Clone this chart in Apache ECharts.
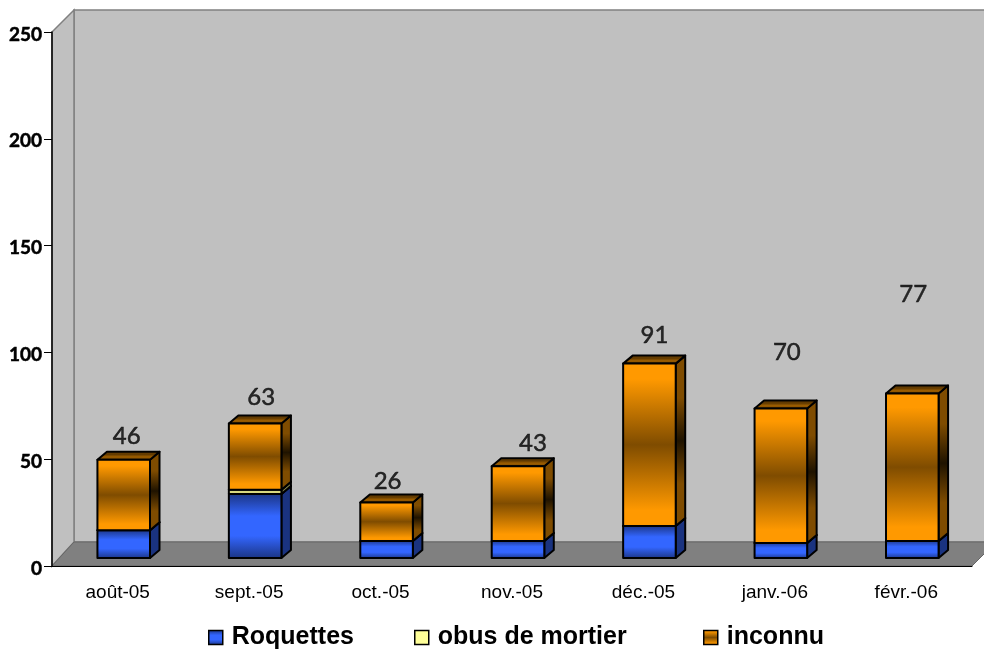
<!DOCTYPE html>
<html>
<head>
<meta charset="utf-8">
<title>Tirs par mois</title>
<script src="https://cdn.jsdelivr.net/npm/echarts@6/dist/echarts.min.js"></script>
<style>
html, body { margin: 0; padding: 0; background: #fff; }
#chart { width: 984px; height: 650px; }
</style>
</head>
<body>
<div id="chart"></div>
<script>
// valeurs
var categories = ['août-05', 'sept.-05', 'oct.-05', 'nov.-05', 'déc.-05', 'janv.-06', 'févr.-06'];
var roquettes = [13, 30, 8, 8, 15, 7, 8];
var obus = [0, 2, 0, 0, 0, 0, 0];
var inconnu = [33, 31, 18, 35, 76, 63, 69];
var totals = [46, 63, 26, 43, 91, 70, 77];
var yTicks = [0, 250, 50];

// decalage des etiquettes, placees a la main sur l'original
var labelOffsets = [[9, -31], [12, -34], [7, -29], [21, -31], [11, -36], [12, -64], [7, -107]];

var WALL = 22;      // profondeur du fond
var FLOOR = 24;     // profondeur du sol
var BAR_DX = 6;     // barres posees sur le sol
var BAR_DY = 8;
var DEPTH_X = 9.5;  // profondeur des barres
var DEPTH_Y = 8;

function grad(stops) {
	return new echarts.graphic.LinearGradient(0, 0, 0, 1, stops.map(function (s) {
		return {offset: s[0], color: s[1]};
	}));
}

var orangeStyle = {
	front: grad([[0, '#FF9900'], [0.1, '#FF9900'], [0.5, '#7F4C00'], [0.9, '#FF9900'], [1, '#FF9900']]),
	side: grad([[0, '#7F4C00'], [0.25, '#7F4C00'], [0.5, '#1F1300'], [0.75, '#7F4C00'], [1, '#7F4C00']]),
	top: grad([[0, '#7F4C00'], [0.35, '#5E3800'], [0.6, '#9A5C00'], [1, '#7F4C00']])
};
var blueStyle = {
	front: grad([[0, '#1A3380'], [0.35, '#3366FF'], [0.65, '#3366FF'], [1, '#1A3380']]),
	side: '#1A3380',
	top: '#1A3380'
};
var yellowStyle = {
	front: '#D8D880',
	side: '#80804C',
	top: '#C0C070'
};

function stackData(lower, values) {
	return values.map(function (v, i) {
		var bottom = 0;
		lower.forEach(function (arr) { bottom += arr[i]; });
		return [i, bottom, bottom + v];
	});
}

function boxItem(colors) {
	return function (params, api) {
		var i = api.value(0), low = api.value(1), high = api.value(2);
		if (low === high) return {type: 'group', children: []};
		var w = api.size([1, 0])[0] / 2.5;
		var pb = api.coord([i, low]);
		var pt = api.coord([i, high]);
		var x0 = pb[0] + BAR_DX - w / 2, x1 = x0 + w;
		var yb = pb[1] - BAR_DY, yt = pt[1] - BAR_DY;
		var line = {stroke: '#000', lineWidth: 2, lineJoin: 'round'};
		return {
			type: 'group',
			children: [
				{type: 'polygon', shape: {points: [[x1, yb], [x1 + DEPTH_X, yb - DEPTH_Y], [x1 + DEPTH_X, yt - DEPTH_Y], [x1, yt]]},
					style: Object.assign({fill: colors.side}, line)},
				{type: 'polygon', shape: {points: [[x0, yt], [x0 + DEPTH_X, yt - DEPTH_Y], [x1 + DEPTH_X, yt - DEPTH_Y], [x1, yt]]},
					style: Object.assign({fill: colors.top}, line)},
				{type: 'rect', shape: {x: x0, y: yt, width: w, height: yb - yt},
					style: Object.assign({fill: colors.front}, line)}
			]
		};
	};
}

function wallsItem(params) {
	var c = params.coordSys;
	var l = c.x, r = c.x + c.width, t = c.y, b = c.y + c.height;
	var edge = {stroke: '#808080', lineWidth: 1.5};
	return {
		type: 'group',
		children: [
			{type: 'polygon', shape: {points: [[l + WALL, t - WALL], [r + WALL, t - WALL], [r + WALL, b - FLOOR], [l + WALL, b - FLOOR]]},
				style: Object.assign({fill: '#C0C0C0'}, edge)},
			{type: 'polygon', shape: {points: [[l, t], [l + WALL, t - WALL], [l + WALL, b - FLOOR], [l, b]]},
				style: Object.assign({fill: '#C0C0C0'}, edge)},
			{type: 'polygon', shape: {points: [[l, b], [l + WALL, b - FLOOR], [r + FLOOR, b - FLOOR], [r, b]]},
				style: {fill: '#808080', stroke: '#666', lineWidth: 1}}
		]
	};
}

function legendAt(left, name, fill) {
	return {
		left: left,
		top: 625,
		padding: 0,
		itemWidth: 14,
		itemHeight: 14,
		selectedMode: false,
		textStyle: {fontFamily: 'Liberation Sans', fontWeight: 'bold', fontSize: 25, color: '#000', padding: [0, 0, 0, 4]},
		data: [{name: name, icon: 'rect', itemStyle: {color: fill, borderColor: '#000', borderWidth: 1.5}}]
	};
}

var chart = echarts.init(document.getElementById('chart'), null, {renderer: 'canvas'});
var option = {
	animation: false,
	backgroundColor: '#fff',
	grid: {left: 52, right: 12, top: 32, bottom: 84, containLabel: false},
	legend: [
		legendAt(208, 'Roquettes', blueStyle.front),
		legendAt(414, 'obus de mortier', '#FFFF99'),
		legendAt(703, 'inconnu', orangeStyle.front)
	],
	xAxis: {
		type: 'category',
		data: categories,
		axisLine: {lineStyle: {color: '#000', width: 1}},
		axisTick: {length: 9, lineStyle: {color: '#000'}},
		axisLabel: {fontFamily: 'Liberation Sans', fontSize: 19, color: '#000', margin: 17, interval: 0}
	},
	yAxis: {
		type: 'value',
		min: yTicks[0],
		max: yTicks[1],
		interval: yTicks[2],
		splitLine: {show: false},
		axisLine: {show: true, lineStyle: {color: '#000', width: 1.5}},
		axisTick: {show: true, length: 8, lineStyle: {color: '#000'}},
		axisLabel: {
			fontFamily: 'Lato', fontWeight: 'bold', fontSize: 19, color: '#000', margin: 10,
			verticalAlign: 'top', lineHeight: 5, textBorderColor: '#000', textBorderWidth: 0.5
		}
	},
	series: [
		{name: 'fond', type: 'custom', z: -1, silent: true, renderItem: wallsItem, data: [[0, 0]]},
		{name: 'Roquettes', type: 'custom', z: 2, renderItem: boxItem(blueStyle), encode: {x: 0, y: [1, 2]}, data: stackData([], roquettes)},
		{name: 'obus de mortier', type: 'custom', z: 2, renderItem: boxItem(yellowStyle), encode: {x: 0, y: [1, 2]}, data: stackData([roquettes], obus)},
		{name: 'inconnu', type: 'custom', z: 2, renderItem: boxItem(orangeStyle), encode: {x: 0, y: [1, 2]}, data: stackData([roquettes, obus], inconnu)},
		{
			name: 'total',
			type: 'scatter',
			z: 3,
			symbolSize: 0,
			silent: true,
			data: totals.map(function (t, i) {
				return {
					value: [i, t],
					label: {offset: labelOffsets[i]}
				};
			}),
			label: {
				show: true,
				position: 'inside',
				fontFamily: 'Lato',
				fontSize: 24,
				color: '#000',
				textBorderColor: '#000',
				textBorderWidth: 0.5,
				formatter: function (p) { return p.value[1]; }
			}
		}
	]
};
chart.setOption(option);
</script>
</body>
</html>
